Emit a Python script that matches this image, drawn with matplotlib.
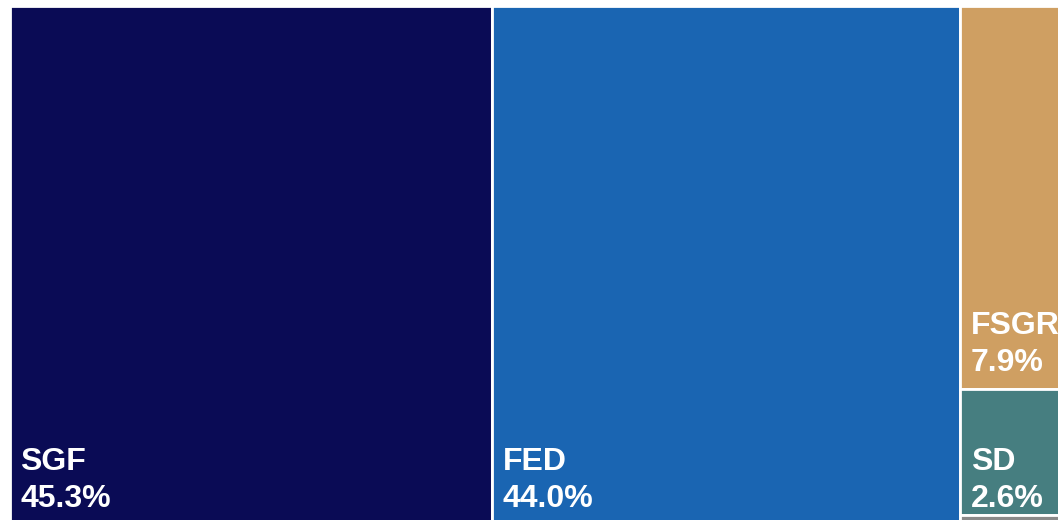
import matplotlib
matplotlib.use("Agg")
import matplotlib.pyplot as plt
from matplotlib.patches import Rectangle

names = ["SGF", "FED", "FSGR", "SD", "Other"]
values = [45.3, 44.0, 7.9, 2.6, 0.2]
colors = ["#0a0b55", "#1a65b2", "#cf9f62", "#467e80", "#8a8a8a"]
show_label = [True, True, True, True, False]
label_pad = [18, 18, 18, 8, 0]   # px from rect bottom to baseline of % line

W, H = 1058, 520
fig = plt.figure(figsize=(W / 100, H / 100), dpi=100)
ax = fig.add_axes([0, 0, 1, 1])
ax.set_xlim(0, W)
ax.set_ylim(H, 0)
ax.axis("off")

# treemap area (extends past the figure edge like the reference)
x0, y0, tw, th = 10, 6, 1064, 519
total = sum(values)

rects = []
cx = x0
for i in range(2):
    w = tw * values[i] / total
    rects.append((cx, y0, w, th))
    cx += w
rest = values[2:]
rsum = sum(rest)
cw = tw * rsum / total
cy = y0
for v in rest:
    h = th * v / rsum
    rects.append((cx, cy, cw, h))
    cy += h

for (rx, ry, rw, rh), name, v, c, show, pad in zip(rects, names, values, colors, show_label, label_pad):
    ax.add_patch(Rectangle((rx, ry), rw, rh, facecolor=c, edgecolor="white", linewidth=2.0))
    if show:
        ax.text(rx + 10.5, ry + rh - pad, f"{v:.1f}%", color="white", fontsize=23,
                fontweight="bold", family="Liberation Sans", va="baseline", ha="left")
        ax.text(rx + 10.5, ry + rh - pad - 37, name, color="white", fontsize=23,
                fontweight="bold", family="Liberation Sans", va="baseline", ha="left")

fig.savefig("out.png", dpi=100, facecolor="white")
